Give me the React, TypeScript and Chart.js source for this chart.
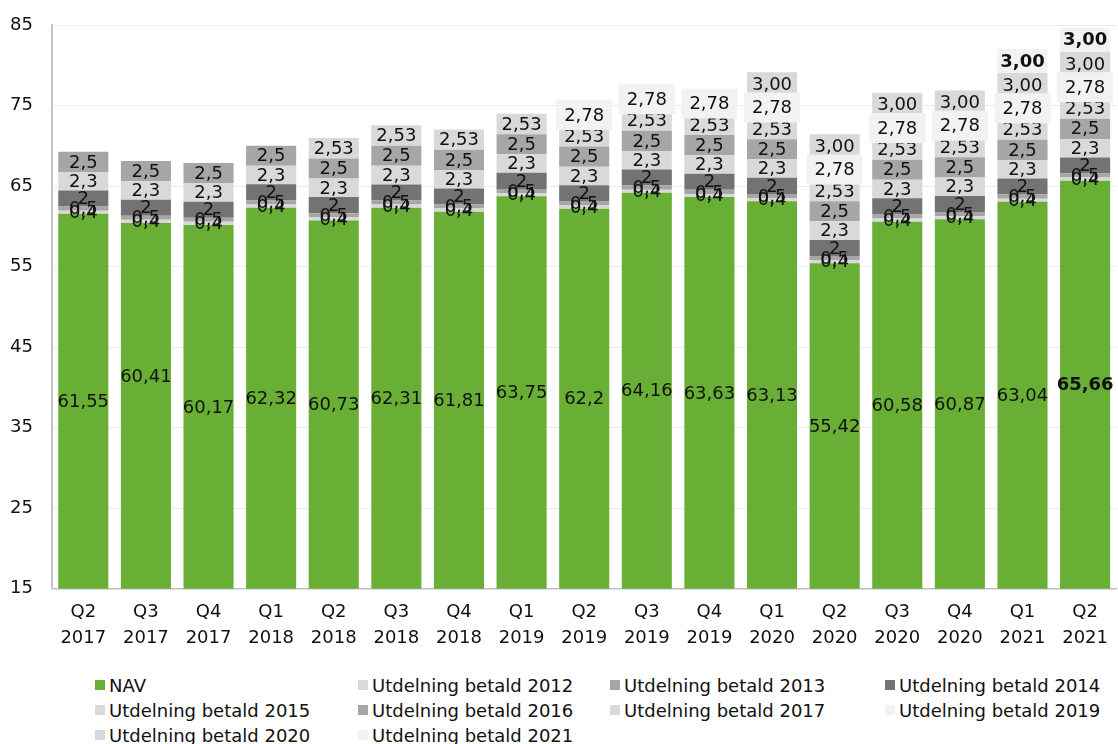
import React, { useEffect, useRef } from "react";
import { Chart, registerables } from "chart.js";

Chart.register(...registerables);

const categories: string[][] = [
  ["Q2", "2017"], ["Q3", "2017"], ["Q4", "2017"], ["Q1", "2018"], ["Q2", "2018"],
  ["Q3", "2018"], ["Q4", "2018"], ["Q1", "2019"], ["Q2", "2019"], ["Q3", "2019"],
  ["Q4", "2019"], ["Q1", "2020"], ["Q2", "2020"], ["Q3", "2020"], ["Q4", "2020"],
  ["Q1", "2021"], ["Q2", "2021"],
];

const nav = [61.55, 60.41, 60.17, 62.32, 60.73, 62.31, 61.81, 63.75, 62.2, 64.16, 63.63, 63.13, 55.42, 60.58, 60.87, 63.04, 65.66];
const div2012 = [0.4, 0.4, 0.4, 0.4, 0.4, 0.4, 0.4, 0.4, 0.4, 0.4, 0.4, 0.4, 0.4, 0.4, 0.4, 0.4, 0.4];
const div2013 = [0.5, 0.5, 0.5, 0.5, 0.5, 0.5, 0.5, 0.5, 0.5, 0.5, 0.5, 0.5, 0.5, 0.5, 0.5, 0.5, 0.5];
const div2014 = [2, 2, 2, 2, 2, 2, 2, 2, 2, 2, 2, 2, 2, 2, 2, 2, 2];
const div2015 = [2.3, 2.3, 2.3, 2.3, 2.3, 2.3, 2.3, 2.3, 2.3, 2.3, 2.3, 2.3, 2.3, 2.3, 2.3, 2.3, 2.3];
const div2016 = [2.5, 2.5, 2.5, 2.5, 2.5, 2.5, 2.5, 2.5, 2.5, 2.5, 2.5, 2.5, 2.5, 2.5, 2.5, 2.5, 2.5];
const div2017 = [null, null, null, null, 2.53, 2.53, 2.53, 2.53, 2.53, 2.53, 2.53, 2.53, 2.53, 2.53, 2.53, 2.53, 2.53];
const div2019 = [null, null, null, null, null, null, null, null, 2.78, 2.78, 2.78, 2.78, 2.78, 2.78, 2.78, 2.78, 2.78];
const div2020 = [null, null, null, null, null, null, null, null, null, null, null, 3, 3, 3, 3, 3, 3];
const div2021 = [null, null, null, null, null, null, null, null, null, null, null, null, null, null, null, 3, 3];

const seriesNames = [
  "NAV", "Utdelning betald 2012", "Utdelning betald 2013", "Utdelning betald 2014",
  "Utdelning betald 2015", "Utdelning betald 2016", "Utdelning betald 2017",
  "Utdelning betald 2019", "Utdelning betald 2020", "Utdelning betald 2021",
];
const seriesData = [nav, div2012, div2013, div2014, div2015, div2016, div2017, div2019, div2020, div2021];
const seriesColors = ["#6aaf35", "#d9d9d9", "#a6a6a6", "#737373", "#d9d9d9", "#a6a6a6", "#d9d9d9", "#f2f2f2", "#d9d9d9", "#f2f2f2"];
const seriesDecimals = [-1, -1, -1, -1, -1, -1, -1, -1, 2, 2];

const yTicks = { min: 15, max: 85, step: 10 };

const FONT = "'DejaVu Sans', Verdana, sans-serif";

function fmt(v: number, dec: number): string {
  const s = dec >= 0 ? v.toFixed(dec) : String(v);
  return s.replace(".", ",");
}

const labelPlugin = {
  id: "segLabels",
  afterDatasetsDraw(chart: any) {
    const ctx = chart.ctx;
    const area = chart.chartArea;
    ctx.save();
    ctx.textAlign = "center";
    ctx.textBaseline = "middle";
    chart.data.datasets.forEach((ds: any, di: number) => {
      const meta = chart.getDatasetMeta(di);
      meta.data.forEach((el: any, i: number) => {
        const v = ds.data[i];
        if (v === null || v === undefined) return;
        const bottom = Math.min(el.base, area.bottom);
        let y = (el.y + bottom) / 2;
        if (di === 0 && i === 1) y -= 30;
        const bold = di === 9 || (di === 0 && i === ds.data.length - 1);
        ctx.font = `${bold ? "bold " : ""}18px ${FONT}`;
        const text = fmt(v, seriesDecimals[di]);
        if (di === 7) {
          const w = ctx.measureText(text).width + 16;
          ctx.fillStyle = "#f2f2f2";
          ctx.fillRect(el.x - w / 2, y - 15, w, 30);
        }
        ctx.fillStyle = "#111";
        ctx.fillText(text, el.x, y + 1);
      });
    });
    ctx.restore();
  },
};

export default function App() {
  const ref = useRef<HTMLCanvasElement | null>(null);

  useEffect(() => {
    document.body.style.margin = "0";
    if (!ref.current) return;
    const chart = new Chart(ref.current, {
      type: "bar",
      data: {
        labels: categories,
        datasets: seriesNames.map((name, i) => ({
          label: name,
          data: seriesData[i] as any,
          backgroundColor: seriesColors[i],
          borderWidth: 0,
          categoryPercentage: 0.8,
          barPercentage: 1.0,
        })),
      },
      options: {
        responsive: false,
        animation: false,
        layout: { padding: { top: 25, left: 10, right: 0, bottom: 11 } },
        plugins: {
          legend: { display: false },
          tooltip: { enabled: false },
        },
        scales: {
          x: {
            stacked: true,
            grid: { display: false, drawTicks: false },
            border: { color: "#bfbfbf", width: 1.5 },
            ticks: {
              color: "#111",
              font: { family: FONT, size: 18, lineHeight: 1.45 },
              padding: 10,
              maxRotation: 0,
              autoSkip: false,
            },
          },
          y: {
            stacked: true,
            min: yTicks.min,
            max: yTicks.max,
            grid: { color: "#ebebeb", lineWidth: 1, drawTicks: false },
            border: { color: "#c4c4c4", width: 2 },
            ticks: {
              stepSize: yTicks.step,
              color: "#111",
              font: { family: FONT, size: 18 },
              padding: 2,
              crossAlign: "far",
            },
            afterFit: (scale: any) => {
              scale.width = 42;
            },
          },
        },
      },
      plugins: [labelPlugin],
    });
    return () => chart.destroy();
  }, []);

  const legendCols = [95, 358, 610, 885];
  const legendRows = [685, 710, 735];

  return (
    <div style={{ position: "relative", width: 1118, height: 744, background: "#fff", overflow: "hidden" }}>
      <canvas ref={ref} width={1118} height={672} style={{ position: "absolute", left: 0, top: 0 }} />
      {seriesNames.map((name, i) => {
        const col = i % 4;
        const row = Math.floor(i / 4);
        return (
          <div
            key={name}
            style={{
              position: "absolute",
              left: legendCols[col],
              top: legendRows[row] - 12,
              height: 24,
              display: "flex",
              alignItems: "center",
              fontFamily: FONT,
              fontSize: 18,
              color: "#111",
              whiteSpace: "nowrap",
            }}
          >
            <span style={{ display: "inline-block", width: 10, height: 10, background: seriesColors[i], marginRight: 4 }} />
            <span>{name}</span>
          </div>
        );
      })}
    </div>
  );
}
